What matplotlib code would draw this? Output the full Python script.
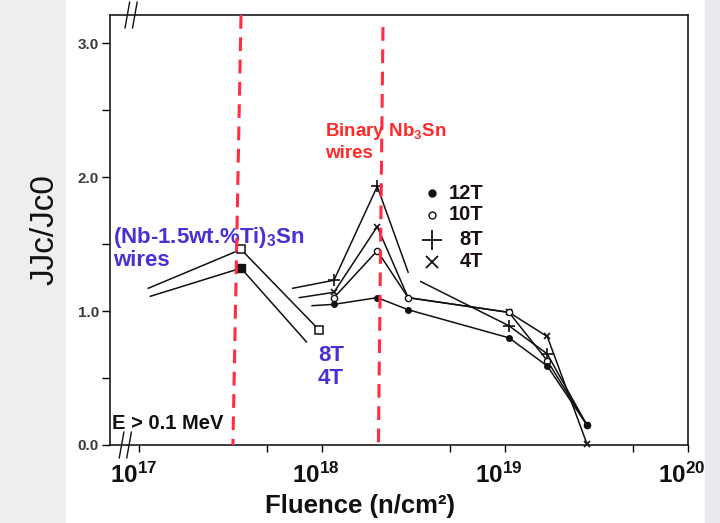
import numpy as np
import matplotlib
matplotlib.use("Agg")
import matplotlib.pyplot as plt
from matplotlib.patches import Rectangle
from matplotlib.transforms import ScaledTranslation
from matplotlib.ticker import FixedLocator, FuncFormatter, NullFormatter

plt.rcParams['font.family'] = ['Liberation Sans', 'DejaVu Sans']
plt.rcParams['mathtext.fontset'] = 'custom'
plt.rcParams['mathtext.rm'] = 'Liberation Sans'
plt.rcParams['mathtext.bf'] = 'Liberation Sans:bold'

# ---- data: normalised critical current vs. neutron fluence ----
nan = np.nan

# (Nb-1.5wt.%Ti)3Sn wires
ti_8T_fluence = [1.12e17, 3.6e17, 9.6e17]
ti_8T_ratio = [1.17, 1.46, 0.86]
ti_4T_fluence = [1.15e17, 3.6e17, 8.2e17]
ti_4T_ratio = [1.11, 1.32, 0.77]

# Binary Nb3Sn wires (a NaN splits a curve into separately drawn pieces)
bin_8T_fluence = [6.9e17, 1.16e18, 2.0e18, 2.95e18, nan, 3.46e18, 1.05e19, 1.7e19, 2.8e19]
bin_8T_ratio = [1.17, 1.23, 1.93, 1.29, nan, 1.22, 0.89, 0.68, 0.15]
bin_4T_fluence = [7.5e17, 1.16e18, 2.0e18, 2.95e18, 1.05e19, 1.7e19, 2.8e19]
bin_4T_ratio = [1.10, 1.14, 1.63, 1.10, 0.99, 0.81, 0.01]
bin_10T_fluence = [1.16e18, 2.0e18, 2.95e18, 1.05e19, 1.7e19, 2.8e19]
bin_10T_ratio = [1.10, 1.45, 1.10, 0.99, 0.63, 0.15]
bin_12T_fluence = [8.8e17, 1.16e18, 2.0e18, 2.95e18, 1.05e19, 1.7e19, 2.8e19]
bin_12T_ratio = [1.04, 1.05, 1.10, 1.01, 0.80, 0.59, 0.15]

# red dashed reference fluences (top end, bottom end)
ref1_fluence = [3.6e17, 3.25e17]
ref2_fluence = [2.15e18, 2.03e18]

x_ticks = [1e17, 1e18, 1e19, 1e20]
x_minor = [5e17, 5e18, 5e19]
y_ticks = [0.0, 1.0, 2.0, 3.0]
y_minor = [0.5, 1.5, 2.5]
legend_labels = ['12T', '10T', '8T', '4T']

# ---- figure ----
W, H = 720, 523
fig = plt.figure(figsize=(W / 100, H / 100), dpi=100)
fig.patches.append(Rectangle((0, 0), 65 / W, 1, transform=fig.transFigure,
                             color='#edeef0', zorder=-5))
fig.patches.append(Rectangle((705 / W, 0), 15 / W, 1, transform=fig.transFigure,
                             color='#e9eaed', zorder=-5))

ax = fig.add_axes([110 / W, 1 - 445 / H, 578 / W, 430 / H])
ax.set_xscale('log')
ax.set_xlim(10 ** 16.84, 1e20)
ax.set_ylim(0, 3.21)

lw = 1.1
k = '#111111'

# Ti-doped wires
ax.plot(ti_8T_fluence, ti_8T_ratio, color=k, lw=lw, marker='s', ms=5.5,
        mfc='white', mec=k, mew=1.1, markevery=[1, 2])
ax.plot(ti_4T_fluence, ti_4T_ratio, color=k, lw=lw, marker='s', ms=5.5,
        mfc=k, mec=k, markevery=[1])

# binary wires
ax.plot(bin_8T_fluence, bin_8T_ratio, color=k, lw=lw, marker='+', ms=8,
        mew=1.2, markevery=[1, 2, 6, 7])
ax.plot(bin_4T_fluence, bin_4T_ratio, color=k, lw=lw, marker='x', ms=5,
        mew=1.2, markevery=[1, 2, 4, 5, 6], clip_on=False)
ax.plot(bin_10T_fluence, bin_10T_ratio, color=k, lw=lw, marker='o', ms=4.5,
        mfc='white', mec=k, mew=1.0, markevery=[0, 1, 2, 3, 4, 5])
ax.plot(bin_12T_fluence, bin_12T_ratio, color=k, lw=lw, marker='o', ms=4,
        mfc=k, mec=k, markevery=[1, 2, 3, 4, 5, 6])

# red dashed reference lines
red = '#ff2d3f'
ax.plot(ref1_fluence, [3.21, 0], color=red, lw=2.2, ls=(0, (4.5, 2.8)), zorder=5)
ax.plot(ref2_fluence, [3.12, 0], color=red, lw=2.2, ls=(0, (4.5, 2.8)), zorder=5)

# axes styling
for s in ax.spines.values():
    s.set_linewidth(1.2)
    s.set_color('#1a1a1a')
ax.xaxis.set_major_locator(FixedLocator(x_ticks))
ax.xaxis.set_minor_locator(FixedLocator(x_minor))
ax.xaxis.set_major_formatter(FuncFormatter(
    lambda v, p: r'$\mathbf{10^{%d}}$' % round(np.log10(v))))
ax.xaxis.set_minor_formatter(NullFormatter())
ax.tick_params(axis='x', which='both', direction='out', length=5, width=1.0,
               pad=8, labelsize=17.5, labelcolor='#111111')
shift = ScaledTranslation(-6 / 100, 0, fig.dpi_scale_trans)
for lab in ax.get_xticklabels():
    lab.set_transform(lab.get_transform() + shift)
ax.yaxis.set_major_locator(FixedLocator(y_ticks))
ax.yaxis.set_minor_locator(FixedLocator(y_minor))
ax.yaxis.set_major_formatter(FuncFormatter(lambda v, p: '%.1f' % v))
ax.tick_params(axis='y', which='both', direction='out', length=6, width=1.0,
               pad=2, labelsize=11, labelcolor='#3a3a3a')
for lab in ax.get_yticklabels():
    lab.set_fontweight('bold')

# axis break marks
for xb in (0.020, 0.033):
    ax.plot([xb - 0.004, xb + 0.004], [-0.03, 0.03], transform=ax.transAxes,
            color=k, lw=1.0, clip_on=False)
for xb in (0.030, 0.043):
    ax.plot([xb - 0.004, xb + 0.004], [0.97, 1.03], transform=ax.transAxes,
            color=k, lw=1.0, clip_on=False)

# legend for the binary-wire curves
leg_y = [0.586, 0.535, 0.477, 0.426]
leg_mk = [dict(marker='o', ms=5, mfc=k, mec=k),
          dict(marker='o', ms=5, mfc='white', mec=k, mew=1.0),
          dict(marker='+', ms=14, mec=k, mew=1.3),
          dict(marker='x', ms=9, mec=k, mew=1.3)]
for yy, mk, lab in zip(leg_y, leg_mk, legend_labels):
    ax.plot([0.557], [yy], transform=ax.transAxes, ls='none', **mk)
    ax.text(0.646, yy, lab, transform=ax.transAxes, ha='right', va='center',
            fontsize=14.5, fontweight='bold', color='#1a1010')

# annotations
ax.text(0.372, 0.706, 'Binary Nb$_\\mathbf{3}$Sn\nwires', transform=ax.transAxes,
        ha='left', va='center', fontsize=13.5, fontweight='bold', color='#ff2a2a',
        linespacing=1.2, zorder=6)
blue = '#4a30d4'
ax.text(0.005, 0.458, '(Nb-1.5wt.%Ti)$_\\mathbf{3}$Sn\nwires', transform=ax.transAxes,
        ha='left', va='center', fontsize=16, fontweight='bold', color=blue,
        linespacing=1.0)
ax.text(0.36, 0.181, '8T\n4T', transform=ax.transAxes, ha='left', va='center',
        fontsize=16, fontweight='bold', color=blue, linespacing=1.15)
ax.text(0.004, 0.05, 'E > 0.1 MeV', transform=ax.transAxes, ha='left',
        va='center', fontsize=14.5, fontweight='bold', color='#111111')

fig.text(360 / W, 1 - 506 / H, 'Fluence (n/cm\u00b2)', ha='center', va='center',
         fontsize=18.5, fontweight='bold', color='#111111')
fig.text(45 / W, 1 - 230 / H, 'JJc/Jc0', ha='center', va='center', rotation=90,
         fontsize=24, color='#111111')

fig.savefig('out.png', dpi=100)
